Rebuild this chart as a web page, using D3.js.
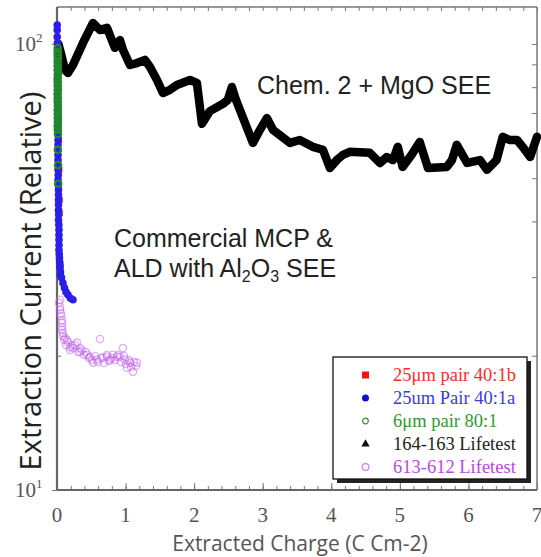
<!DOCTYPE html>
<html>
<head>
<meta charset="utf-8">
<script src="https://cdn.jsdelivr.net/npm/d3@7"></script>
<style>
  html, body { margin: 0; padding: 0; background: #fff; }
  svg { display: block; }
</style>
</head>
<body>
<svg id="chart" width="541" height="557"></svg>
<script>
// ---------------- data ----------------
const xTicks = [0, 1, 2, 3, 4, 5, 6, 7];
const yTicks = [10, 100];
const yTickExp = ["1", "2"];

// 164-163 Lifetest (Chem. 2 + MgO SEE) – dense thick trace
const chemX = [0.02, 0.044, 0.117, 0.16, 0.233, 0.379, 0.525, 0.627, 0.729, 0.80, 0.845, 0.918, 0.962, 1.064, 1.166, 1.283, 1.356, 1.458, 1.545, 1.647, 1.749, 1.939, 2.04, 2.114, 2.23, 2.42, 2.49, 2.55, 2.61, 2.668, 2.857, 2.96, 3.06, 3.149, 3.397, 3.54, 3.73, 3.878, 3.98, 4.08, 4.17, 4.27, 4.56, 4.71, 4.81, 4.9, 4.97, 5.04, 5.17, 5.29, 5.41, 5.685, 5.76, 5.83, 5.98, 6.17, 6.27, 6.41, 6.50, 6.60, 6.71, 6.79, 6.90, 7.0];
const chemY = [100, 97, 87.4, 86.1, 89.7, 100.5, 111.4, 107.5, 108.6, 102, 98, 102, 97, 89.7, 90.6, 92.1, 88.8, 83, 77.6, 78.9, 80.9, 83, 81.8, 66.2, 70.7, 73.4, 74.9, 80.1, 74.9, 71.1, 60, 64.2, 68.2, 64.2, 60, 60.9, 58.8, 57.9, 52.7, 54.9, 56.4, 57.3, 57, 54.1, 55.8, 54.9, 58.8, 53, 56.4, 60.3, 52.7, 53, 54.9, 59.4, 54.1, 54.9, 52.2, 54.9, 61.9, 60.9, 60.9, 58.8, 55.8, 61.9];

// 25um Pair 40:1a (blue filled circles)
const blueX = [0.003, 0.003, 0.007, 0.007, 0.007, 0.007, 0.007, 0.007, 0.015, 0.015, 0.015, 0.015, 0.015, 0.015, 0.015, 0.015, 0.022, 0.022, 0.022, 0.022, 0.029, 0.029, 0.029, 0.036, 0.044, 0.051, 0.066, 0.087, 0.109, 0.131, 0.16, 0.197, 0.233,
  0.003, 0.005, 0.007, 0.007, 0.007, 0.007, 0.007, 0.01, 0.015, 0.015, 0.015, 0.015, 0.015, 0.015, 0.018, 0.02, 0.022, 0.022, 0.025, 0.027, 0.029, 0.03, 0.033, 0.04, 0.044, 0.05];
const blueY = [110.3, 103.7, 96.9, 92.1, 87.4, 83.0, 78.9, 74.9, 71.1, 67.5, 64.2, 60.9, 57.9, 54.9, 52.2, 49.6, 47.1, 44.7, 42.4, 40.3, 38.3, 36.4, 34.5, 33.1, 31.9, 30.8, 29.9, 29.1, 28.4, 27.8, 27.4, 26.9, 26.7,
  107.5, 100.5, 94.5, 89.7, 85.2, 80.9, 76.9, 73.0, 69.3, 65.8, 62.5, 59.4, 56.4, 53.5, 50.8, 48.3, 45.9, 43.6, 41.4, 39.3, 37.3, 35.4, 33.8, 32.4, 31.5, 30.3];

// 6um pair 80:1 (green open circles)
const greenX = [0.01, 0.012, 0.01, 0.012, 0.01, 0.012, 0.01, 0.012, 0.01, 0.012, 0.01, 0.014, 0.012, 0.016, 0.018,
  0.011, 0.013, 0.011, 0.013, 0.011, 0.013, 0.011, 0.013, 0.011, 0.013, 0.011];
const greenY = [97.9, 94.5, 91.1, 87.4, 83.9, 80.5, 77.3, 74.1, 71.1, 68.2, 65.5, 62.8, 57.9, 53.5, 48.6,
  96.0, 93.0, 89.2, 85.6, 82.2, 78.9, 75.7, 72.6, 69.7, 66.9, 64.2];

// 25um pair 40:1b (red squares)
const redX = [0.03, 0.03, 0.035, 0.04, 0.04];
const redY = [68.2, 60.9, 52.2, 44.7, 41.8];

// 613-612 Lifetest (purple open circles)
const purpleX = [0.044, 0.044, 0.058, 0.073, 0.073, 0.087, 0.102, 0.146, 0.19, 0.219, 0.29, 0.335, 0.364, 0.437, 0.48, 0.525, 0.583, 0.627, 0.67, 0.729, 0.773, 0.816, 0.875, 0.918, 0.962, 0.99, 1.02, 1.064, 1.108, 1.166,
  0.029, 0.044, 0.058, 0.073, 0.073, 0.0875, 0.117, 0.131, 0.16, 0.19, 0.233, 0.2625, 0.306, 0.335, 0.394, 0.423, 0.467, 0.51, 0.554, 0.598, 0.642, 0.686, 0.729, 0.758, 0.802, 0.846, 0.89, 0.933, 0.977, 1.006, 1.05, 1.08, 1.123, 1.152];
const purpleY = [26.7, 25.7, 24.9, 24.0, 23.2, 22.5, 21.7, 21.7, 20.9, 21.1, 21.4, 20.4, 20.6, 20.1, 19.9, 19.3, 19.6, 21.8, 19.8, 19.9, 19.6, 20.1, 19.9, 19.9, 20.8, 19.6, 18.8, 19.3, 18.4, 19.3,
  26.27, 25.33, 24.55, 23.69, 22.85, 22.14, 21.92, 21.14, 21.47, 20.60, 20.82, 21.14, 20.39, 20.82, 20.08, 20.39, 19.77, 19.56, 19.97, 19.36, 19.77, 19.26, 20.08, 19.46, 19.77, 19.56, 20.08, 19.36, 19.97, 19.16, 19.56, 18.87, 19.36, 18.97];

const legendLabels = ["25\u03bcm pair 40:1b", "25um Pair 40:1a", "6\u03bcm pair 80:1", "164-163 Lifetest", "613-612 Lifetest"];
const legendColors = ["#ff2a2a", "#3a3ae8", "#2e9a2e", "#222222", "#b84ae0"];
const legendShapes = ["square", "circle", "ocircle", "triangle", "ocircle2"];

// ---------------- layout ----------------
const svg = d3.select("#chart");
const L = 57, R = 537, T = 7, B = 490;
const x = d3.scaleLinear().domain([0, 7]).range([L, R]);
const y = d3.scaleLog().domain([10, 121]).range([B, T]);

const frameColor = "#777";

// frame (top & right)
svg.append("line").attr("x1", L).attr("x2", R).attr("y1", T).attr("y2", T)
  .attr("stroke", frameColor).attr("stroke-width", 1.5);
svg.append("line").attr("x1", R).attr("x2", R).attr("y1", T).attr("y2", B)
  .attr("stroke", frameColor).attr("stroke-width", 1.5);

// minor ticks
const xMinor = d3.range(0, 7.0001, 0.2).map(v => +v.toFixed(2));
const yMinor = [];
for (let d = 10; d < 121; d *= 10) for (let k = 1; k < 10; k++) { const v = d * k; if (v >= 10 && v <= 121) yMinor.push(v); }

function styleAxis(g) {
  g.select(".domain").remove();
  g.selectAll(".tick line").attr("stroke", frameColor).attr("stroke-width", 1);
  g.selectAll(".tick text").remove();
}
svg.append("g").attr("transform", `translate(0,${B})`)
  .call(d3.axisBottom(x).tickValues(xMinor).tickSize(-4).tickFormat("")).call(styleAxis);
svg.append("g").attr("transform", `translate(0,${B})`)
  .call(d3.axisBottom(x).tickValues(xTicks).tickSize(-7).tickFormat("")).call(styleAxis);
svg.append("g").attr("transform", `translate(0,${T})`)
  .call(d3.axisTop(x).tickValues(xMinor).tickSize(-4).tickFormat("")).call(styleAxis);
svg.append("g").attr("transform", `translate(${R},0)`)
  .call(d3.axisRight(y).tickValues(yMinor).tickSize(-5).tickFormat("")).call(styleAxis);
svg.append("g").attr("transform", `translate(${L},0)`)
  .call(d3.axisLeft(y).tickValues(yMinor).tickSize(-4).tickFormat("")).call(styleAxis);
svg.append("g").attr("transform", `translate(${L},0)`)
  .call(d3.axisLeft(y).tickValues(yTicks).tickSize(5).tickFormat("")).call(styleAxis);

// left & bottom axis lines (thicker)
svg.append("line").attr("x1", L).attr("x2", L).attr("y1", T).attr("y2", B)
  .attr("stroke", "#666").attr("stroke-width", 2.2);
svg.append("line").attr("x1", L).attr("x2", R).attr("y1", B).attr("y2", B)
  .attr("stroke", "#666").attr("stroke-width", 2.2);

// tick labels
svg.append("g").selectAll("text").data(xTicks).join("text")
  .attr("x", d => x(d)).attr("y", 522)
  .attr("text-anchor", "middle")
  .attr("font-family", "'Liberation Serif', 'Times New Roman', serif")
  .attr("font-size", 21).attr("fill", "#555")
  .text(d => d);

const yl = svg.append("g").selectAll("text").data(yTicks).join("text")
  .attr("x", 15).attr("y", d => y(d) + 7)
  .attr("font-family", "'Liberation Serif', 'Times New Roman', serif")
  .attr("font-size", 21).attr("fill", "#555");
yl.append("tspan").text("10");
yl.append("tspan").attr("dy", -9).attr("font-size", 13).text((d, i) => yTickExp[i]);

// axis titles
svg.append("text").attr("x", 300).attr("y", 551)
  .attr("text-anchor", "middle")
  .attr("font-family", "'Open Sans', sans-serif").attr("font-size", 21)
  .attr("fill", "#555").text("Extracted Charge (C Cm-2)");
svg.append("text")
  .attr("transform", "translate(41,281) rotate(-90)")
  .attr("text-anchor", "middle")
  .attr("font-family", "'Open Sans', sans-serif").attr("font-size", 29)
  .attr("fill", "#222").text("Extraction Current (Relative)");

// ---------------- marks ----------------
const chem = chemX.map((v, i) => [v, chemY[i]]);
svg.append("path").datum(chem)
  .attr("d", d3.line().x(d => x(d[0])).y(d => y(d[1])))
  .attr("fill", "none").attr("stroke", "#000").attr("stroke-width", 8.5)
  .attr("stroke-linejoin", "round").attr("stroke-linecap", "round");

const purple = purpleX.map((v, i) => [v, purpleY[i]]);
svg.append("g").selectAll("circle").data(purple).join("circle")
  .attr("cx", d => x(d[0])).attr("cy", d => y(d[1])).attr("r", 3.6)
  .attr("fill", "none").attr("stroke", "#c060ee").attr("stroke-opacity", 0.5).attr("stroke-width", 1.4);

const red = redX.map((v, i) => [v, redY[i]]);
svg.append("g").selectAll("rect").data(red).join("rect")
  .attr("x", d => x(d[0]) - 3).attr("y", d => y(d[1]) - 3).attr("width", 6).attr("height", 6)
  .attr("fill", "#ff2020");

const blue = blueX.map((v, i) => [v, blueY[i]]);
svg.append("g").selectAll("circle").data(blue).join("circle")
  .attr("cx", d => x(d[0])).attr("cy", d => y(d[1])).attr("r", 3.8)
  .attr("fill", "#2a1ee8");

const green = greenX.map((v, i) => [v, greenY[i]]);
svg.append("g").selectAll("circle").data(green).join("circle")
  .attr("cx", d => x(d[0])).attr("cy", d => y(d[1])).attr("r", 3.2)
  .attr("fill", "none").attr("stroke", "#1f8a2a").attr("stroke-width", 2.2);

// ---------------- annotations ----------------
svg.append("text").attr("x", 257).attr("y", 94)
  .attr("font-family", "'Liberation Sans', Arial, sans-serif").attr("font-size", 25)
  .attr("fill", "#222").text("Chem. 2 + MgO SEE");
svg.append("text").attr("x", 114).attr("y", 247)
  .attr("font-family", "'Liberation Sans', Arial, sans-serif").attr("font-size", 25)
  .attr("fill", "#222").text("Commercial MCP &");
const ald = svg.append("text").attr("x", 114).attr("y", 277)
  .attr("font-family", "'Liberation Sans', Arial, sans-serif").attr("font-size", 25)
  .attr("fill", "#222");
ald.append("tspan").text("ALD with Al");
ald.append("tspan").attr("font-size", 16).attr("dy", 5).text("2");
ald.append("tspan").attr("dy", -5).text("O");
ald.append("tspan").attr("font-size", 16).attr("dy", 5).text("3");
ald.append("tspan").attr("dy", -5).text(" SEE");

// ---------------- legend ----------------
const lg = svg.append("g");
lg.append("rect").attr("x", 337).attr("y", 361).attr("width", 194).attr("height", 122).attr("fill", "#222");
lg.append("rect").attr("x", 333).attr("y", 357).attr("width", 194).attr("height", 122)
  .attr("fill", "#fff").attr("stroke", "#111").attr("stroke-width", 1.3);
const rows = lg.selectAll("g.row").data(legendLabels).join("g")
  .attr("transform", (d, i) => `translate(0,${375 + i * 23})`);
rows.each(function(d, i) {
  const g = d3.select(this);
  const s = legendShapes[i], c = legendColors[i];
  if (s === "square") g.append("rect").attr("x", 362).attr("y", -3.5).attr("width", 7).attr("height", 7).attr("fill", "#ff1010");
  else if (s === "circle") g.append("circle").attr("cx", 365.5).attr("cy", 0).attr("r", 3.5).attr("fill", "#1010d0");
  else if (s === "ocircle") g.append("circle").attr("cx", 365.5).attr("cy", 0).attr("r", 2.8).attr("fill", "none").attr("stroke", "#2e9a2e").attr("stroke-width", 1.2);
  else if (s === "triangle") g.append("path").attr("d", d3.symbol(d3.symbolTriangle, 30)()).attr("transform", "translate(365.5,0)").attr("fill", "#111");
  else g.append("circle").attr("cx", 365.5).attr("cy", 0).attr("r", 3.4).attr("fill", "none").attr("stroke", "#d080f0").attr("stroke-width", 1.2);
  g.append("text").attr("x", 393).attr("y", 6)
    .attr("font-family", "'Liberation Serif', 'Times New Roman', serif").attr("font-size", 18.5)
    .attr("fill", c).text(d);
});
</script>
</body>
</html>
